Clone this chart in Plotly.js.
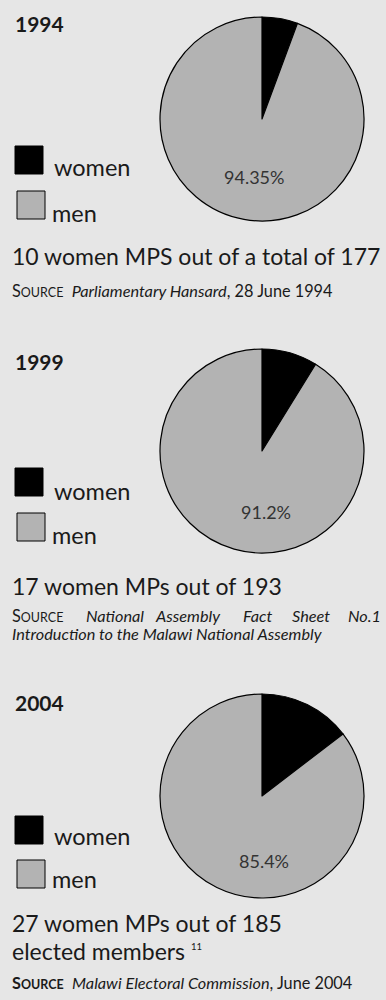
<!DOCTYPE html>
<html><head><meta charset="utf-8">
<script src="https://cdn.plot.ly/plotly-3.0.1.min.js"></script>
<style>html,body{margin:0;padding:0;background:#e6e6e6;}#chart{width:386px;height:1000px;}</style>
</head><body><div id="chart"></div>
<script>
// ---- data ----
const years = ['1994', '1999', '2004'];
const categories = ['women', 'men'];
const womenMPs = [10, 17, 27];
const menMPs = [167, 176, 158];
const menPctLabels = ['94.35%', '91.2%', '85.4%'];
const captions = [
  ['10 women MPS out of a total of 177'],
  ['17 women MPs out of 193'],
  ['27 women MPs out of 185', 'elected members']
];
const footnote = '11';
const sources = [
  {italic: 'Parliamentary Hansard', rest: ', 28 June 1994'},
  {words: ['National', 'Assembly', 'Fact', 'Sheet', 'No.1'], line2: 'Introduction to the Malawi National Assembly'},
  {italic: 'Malawi Electoral Commission', rest: ', June 2004'}
];
const sliceColors = ['#000000', '#b3b3b3'];

// ---- layout helpers ----
const W = 386, H = 1000;
const FONT = 'Lato, "Open Sans", sans-serif';
const TXT = '#1a1a1a';
const py = p => 1 - p / H;
const px = p => p / W;

const pieBoxes = [[17, 221], [349, 553], [694, 898]];   // top/bottom pixel of each pie
const pieX = [160, 364];
const titleY = [23, 361, 702];
const legY = [[146, 191], [468, 513], [816, 860]];
const legTextY = [[167, 213], [491, 535], [836, 879]];
const pctPos = [[254, 177], [266, 512], [264, 861]];
const capY = [256, 586, 937];
const srcY = [291, 615, 982];
const SRC = 16.3;
const CAP = 23;

const data = years.map((y, i) => ({
  type: 'pie',
  values: [womenMPs[i], menMPs[i]],
  labels: categories,
  sort: false,
  direction: 'clockwise',
  rotation: 0,
  textinfo: 'none',
  hoverinfo: 'skip',
  showlegend: false,
  marker: {colors: sliceColors, line: {color: '#000', width: 1.2}},
  domain: {x: [px(pieX[0]), px(pieX[1])], y: [py(pieBoxes[i][1]), py(pieBoxes[i][0])]}
}));

const annotations = [];
const shapes = [];
function ann(text, x, y, size, extra) {
  annotations.push(Object.assign({
    text: text, xref: 'paper', yref: 'paper', x: px(x), y: py(y),
    xanchor: 'left', yanchor: 'middle', align: 'left', showarrow: false,
    font: {family: FONT, size: size, color: TXT}
  }, extra || {}));
}
const srcLabel = (bold) => {
  const s = 'S<span style="font-size:12.5px">OURCE</span>';
  return bold ? '<b>' + s + '</b>' : s;
};

years.forEach((yr, i) => {
  ann('<b>' + yr + '</b>', 13, titleY[i], 21);
  // legend swatches
  shapes.push({type: 'rect', xref: 'paper', yref: 'paper',
    x0: px(15), x1: px(43), y0: py(legY[i][0] + 28), y1: py(legY[i][0]),
    fillcolor: sliceColors[0], line: {color: '#000', width: 1}});
  shapes.push({type: 'rect', xref: 'paper', yref: 'paper',
    x0: px(17), x1: px(45), y0: py(legY[i][1] + 28), y1: py(legY[i][1]),
    fillcolor: sliceColors[1], line: {color: '#000', width: 1}});
  ann(categories[0], 52, legTextY[i][0], 23.5);
  ann(categories[1], 50, legTextY[i][1], 23.5);
  ann(menPctLabels[i], pctPos[i][0], pctPos[i][1], 18, {xanchor: 'center', font: {family: FONT, size: 18, color: '#333'}});
  if (captions[i].length === 1) {
    ann(captions[i][0], 10, capY[i], CAP);
  } else {
    // tight two-line caption: line spacing follows the base size, glyphs use CAP
    const lines = captions[i].map((c, k) => {
      const sup = (k === captions[i].length - 1) ? ' <sup><span style="font-size:9.5px">' + footnote + '</span></sup>' : '';
      return '<span style="font-size:' + CAP + 'px">' + c + sup + '</span>';
    });
    ann(lines.join('<br>'), 10, capY[i], 21.5);
  }
});

// sources
ann(srcLabel(false) + '  <i>' + sources[0].italic + '</i>' + sources[0].rest, 10, srcY[0], SRC);
ann(srcLabel(false), 10, srcY[1], SRC);
const wordX = [84, 153, 241, 290, 346];
sources[1].words.forEach((w, k) => ann('<i>' + w + '</i>', wordX[k], srcY[1], SRC));
ann('<i>' + sources[1].line2 + '</i>', 10, 633, SRC);
ann(srcLabel(true) + '  <i>' + sources[2].italic + '</i>' + sources[2].rest, 10, srcY[2], SRC);

const layout = {
  width: W, height: H,
  margin: {l: 0, r: 0, t: 0, b: 0},
  paper_bgcolor: '#e6e6e6', plot_bgcolor: '#e6e6e6',
  showlegend: false,
  annotations: annotations,
  shapes: shapes
};
Plotly.newPlot('chart', data, layout, {displayModeBar: false, staticPlot: true});
</script></body></html>
